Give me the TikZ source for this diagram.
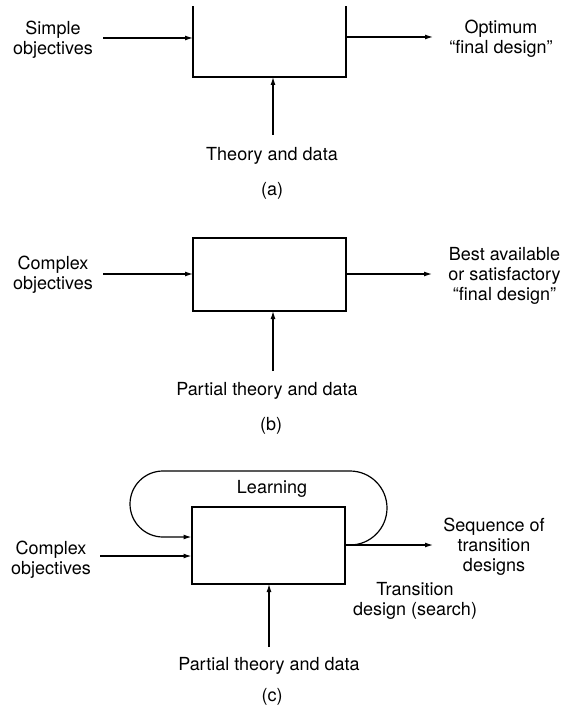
\documentclass[tikz,border=0pt]{standalone}
\usepackage{fontspec}
\setmainfont{TeX Gyre Heros}
\usetikzlibrary{arrows.meta}

\begin{document}
\begin{tikzpicture}[x=1pt,y=-1pt,
box/.style={
% The shape:
rectangle,
draw=black,
line width=2pt,
minimum width=153pt,
inner sep=0pt,
outer sep=0pt
},
lbl/.style={
align=center,
inner sep=0pt,
font=\fontsize{18}{20}\selectfont
},
arr/.style={-{Latex[length=8pt,width=5pt]},line width=1.2pt}
]
\useasboundingbox (0,0) rectangle (570,708);
\clip (0,7) rectangle (570,708);

% (a)
\node (boxa) [box,minimum height=100pt] at (269.5,27) {};
\node (obja) [lbl] at (53,40) {Simple\\objectives};
\node (outa) [lbl] at (501,39) {Optimum\\``final design''};
\node (tda) [lbl] at (272,156) {Theory and data};
\node (capa) [lbl] at (272,191) {(a)};
\coordinate (ina) at (103,38);
\coordinate (resa) at (433,37);
\coordinate (srca) at (273,135);
\draw[arr] (ina) -- (ina -| boxa.west);
\draw[arr] (resa -| boxa.east) -- (resa);
\draw[arr] (srca) -- (srca |- boxa.south);

% (b)
\node (boxb) [box,minimum height=73pt] at (269.5,274.5) {};
\node (objb) [lbl] at (53,275) {Complex\\objectives};
\node (outb) [lbl] at (504.5,276) {Best available\\or satisfactory\\``final design''};
\node (tdb) [lbl] at (267,391) {Partial theory and data};
\node (capb) [lbl] at (271,426) {(b)};
\coordinate (inb) at (103,274);
\coordinate (resb) at (432,274);
\coordinate (srcb) at (273,371);
\draw[arr] (inb) -- (inb -| boxb.west);
\draw[arr] (resb -| boxb.east) -- (resb);
\draw[arr] (srcb) -- (srcb |- boxb.south);

% (c)
\node (boxc) [box,minimum height=77pt] at (268,545.5) {};
\node (objc) [lbl] at (51,560) {Complex\\objectives};
\node (outc) [lbl] at (494,547) {Sequence of\\transition\\designs};
\node (lrn) [lbl] at (272,489) {Learning};
\node (trn) [lbl] at (415,601) {Transition\\design (search)};
\node (tdc) [lbl] at (269,666) {Partial theory and data};
\node (capc) [lbl] at (272,697) {(c)};
\coordinate (inc) at (100,556);
\coordinate (resc) at (433,545);
\coordinate (srcc) at (269,647);
\coordinate (back) at (163,537);
\draw[arr] (inc) -- (inc -| boxc.west);
\draw[arr] (resc -| boxc.east) -- (resc);
\draw[arr] (srcc) -- (srcc |- boxc.south);
% learning loop
\draw[arr] (resc -| boxc.east) -- (350,545)
  arc[start angle=90,end angle=-90,radius=37] -- (163,471)
  arc[start angle=-90,end angle=-270,radius=33] -- (back -| boxc.west);
\end{tikzpicture}
\end{document}
